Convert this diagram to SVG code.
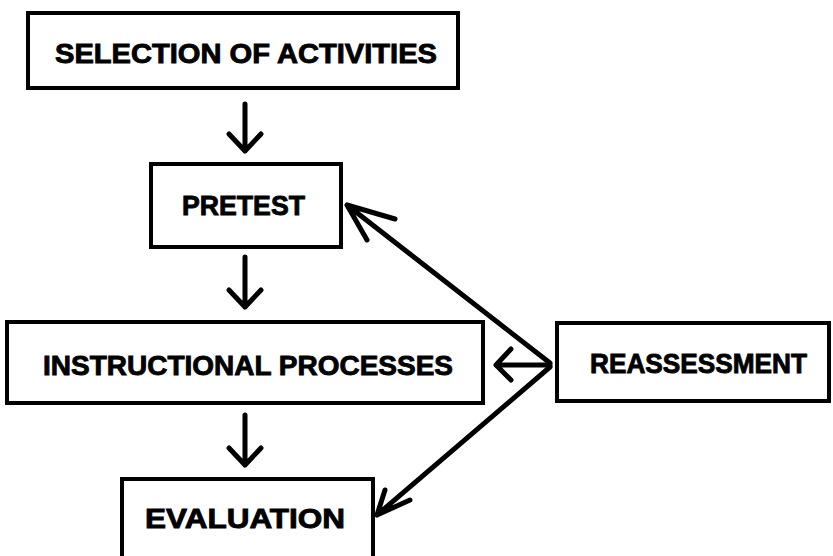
<svg xmlns="http://www.w3.org/2000/svg" width="833" height="556" viewBox="0 0 833 556">
<style>
.box{fill:#fff;stroke:#000;stroke-width:4}
.lbl{font-family:"Liberation Sans",Arial,sans-serif;font-weight:bold;font-size:28px;fill:#000;stroke:#000;stroke-width:0.9}
.con{fill:none;stroke:#000;stroke-width:5;stroke-linecap:round;stroke-linejoin:round}
</style>
<rect width="833" height="556" fill="#fff"/>
<g id="selection">
<rect class="box" x="28" y="13" width="430" height="75"/>
<text class="lbl" x="55" y="63" textLength="382" lengthAdjust="spacingAndGlyphs">SELECTION OF ACTIVITIES</text>
</g>
<g id="pretest">
<rect class="box" x="151" y="164" width="190" height="83"/>
<text class="lbl" x="182" y="215" textLength="123" lengthAdjust="spacingAndGlyphs">PRETEST</text>
</g>
<g id="instructional">
<rect class="box" x="7" y="322" width="476" height="81"/>
<text class="lbl" x="43" y="375" textLength="410" lengthAdjust="spacingAndGlyphs">INSTRUCTIONAL PROCESSES</text>
</g>
<g id="reassessment">
<rect class="box" x="557" y="323" width="272" height="78"/>
<text class="lbl" x="590" y="373" textLength="217" lengthAdjust="spacingAndGlyphs">REASSESSMENT</text>
</g>
<g id="evaluation">
<path class="box" d="M122 560 V479 H373 V560"/>
<text class="lbl" x="145" y="528" textLength="200" lengthAdjust="spacingAndGlyphs">EVALUATION</text>
</g>
<g id="connectors">
<path class="con" d="M245 104 V151 M229 134 L245 151 L261 134"/>
<path class="con" d="M245 257 V307 M229 290 L245 307 L261 290"/>
<path class="con" d="M245 415 V465 M229 448 L245 465 L261 448"/>
<path class="con" d="M550 365 H496 M511 349 L496 365 L511 380"/>
<path class="con" d="M550 363 L347 205 M395 219 L347 205 L367 240"/>
<path class="con" d="M550 367 L377 515 M385 490 L377 515 L410 500"/>
</g>
</svg>
